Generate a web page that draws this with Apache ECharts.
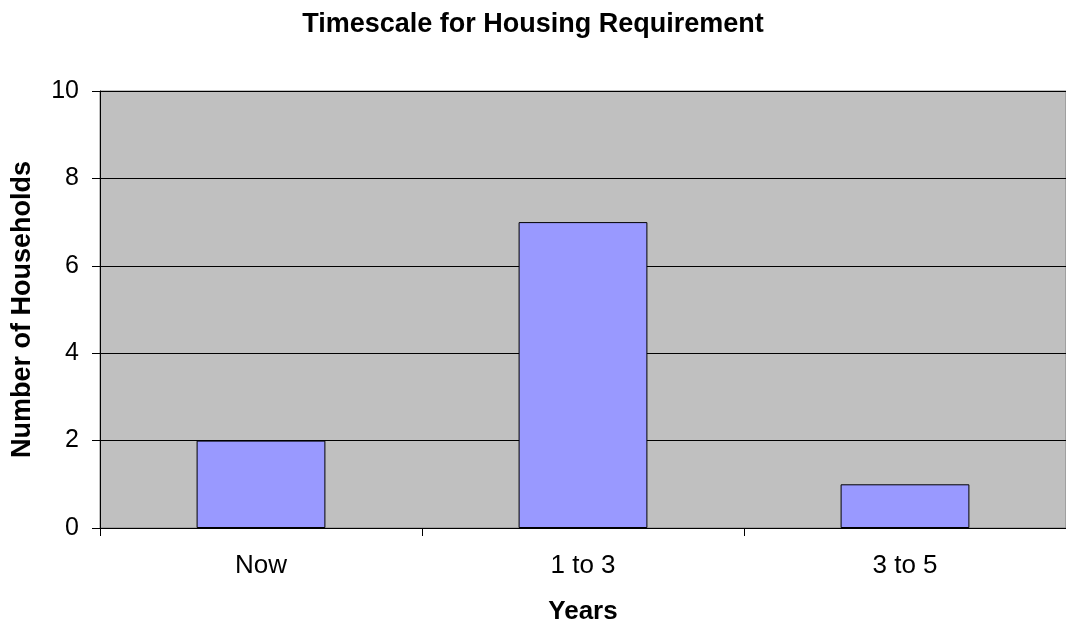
<!DOCTYPE html>
<html>
<head>
<meta charset="utf-8">
<script src="https://cdn.jsdelivr.net/npm/echarts@6/dist/echarts.min.js"></script>
<style>
  html, body { margin: 0; padding: 0; background: #fff; }
  #chart { width: 1066px; height: 630px; }
</style>
</head>
<body>
<div id="chart"></div>
<script>
// data
const categories = ['Now', '1 to 3', '3 to 5'];
const households = [2, 7, 1];
const yTicks = { min: 0, max: 10, interval: 2 };

const chart = echarts.init(document.getElementById('chart'));
const font = 'Arial, "Liberation Sans", sans-serif';

chart.setOption({
  animation: false,
  title: {
    text: 'Timescale for Housing Requirement',
    left: 'center',
    top: 6,
    textStyle: { fontFamily: font, fontSize: 27, fontWeight: 'bold', color: '#000' }
  },
  grid: {
    left: 100, right: 0, top: 91, bottom: 100,
    show: true,
    backgroundColor: '#c0c0c0',
    borderColor: '#808080',
    borderWidth: 1
  },
  xAxis: {
    type: 'category',
    data: categories,
    name: 'Years',
    nameLocation: 'middle',
    nameGap: 71,
    nameTextStyle: { fontFamily: font, fontSize: 26, fontWeight: 'bold', color: '#000' },
    axisLine: { lineStyle: { color: '#000', width: 1 } },
    axisTick: { show: true, length: 8, lineStyle: { color: '#000' } },
    axisLabel: { fontFamily: font, fontSize: 26, color: '#000', margin: 25 }
  },
  yAxis: {
    type: 'value',
    min: yTicks.min,
    max: yTicks.max,
    interval: yTicks.interval,
    name: 'Number of Households',
    nameLocation: 'middle',
    nameGap: 64,
    nameTextStyle: { fontFamily: font, fontSize: 27, fontWeight: 'bold', color: '#000' },
    axisLine: { show: true, lineStyle: { color: '#000', width: 1 } },
    axisTick: { show: true, length: 8, lineStyle: { color: '#000' } },
    axisLabel: { fontFamily: font, fontSize: 25, color: '#000', margin: 21 },
    splitLine: { lineStyle: { color: '#000', width: 1 } }
  },
  series: [{
    type: 'bar',
    data: households,
    barWidth: '40%',
    itemStyle: { color: '#9999ff', borderColor: '#000', borderWidth: 1 }
  }]
});
</script>
</body>
</html>
